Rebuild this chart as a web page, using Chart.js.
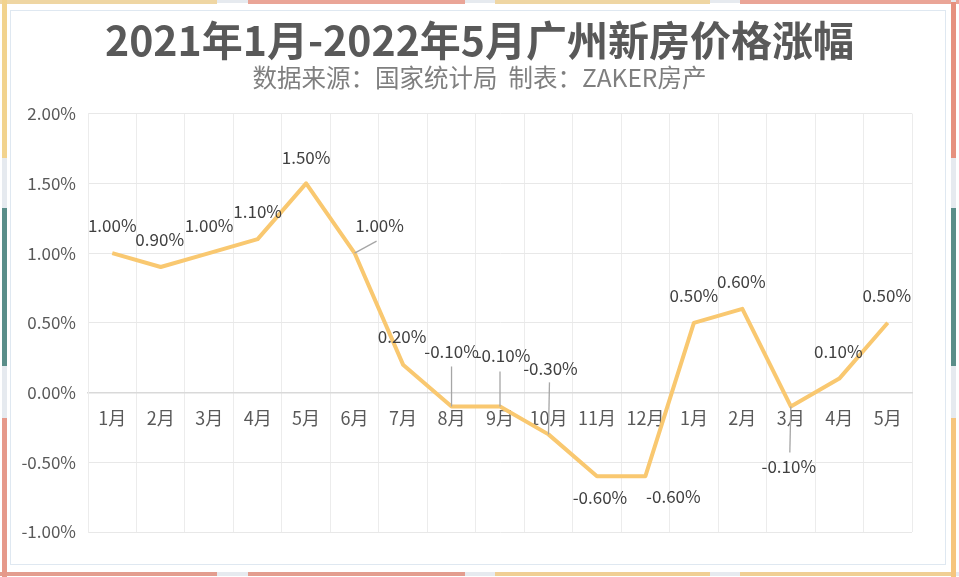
<!DOCTYPE html>
<html>
<head>
<meta charset="utf-8">
<script src="https://cdn.jsdelivr.net/npm/chart.js@4.4.1/dist/chart.umd.min.js"></script>
<style>
  body { margin: 0; background: #fff; }
  #wrap { position: relative; width: 959px; height: 577px; overflow: hidden; background: #fff; }
  #wrap canvas { position: absolute; left: 0; top: 0; }
  .frame { position: absolute; left: 10px; top: 10px; width: 936px; height: 555px; border: 1px solid #dfe8f1; box-sizing: border-box; }
  .bar { position: absolute; }
  .gap { position: absolute; background: #e6eaef; }
</style>
</head>
<body>
<div id="wrap">
  <canvas id="chart" width="959" height="577"></canvas>
  <div class="frame"></div>
  <!-- top edge -->
  <div class="gap" style="left:0;top:0;width:959px;height:3px"></div>
  <div class="bar" style="left:0;top:0;width:217px;height:4px;background:#efd6a3"></div>
  <div class="bar" style="left:248px;top:0;width:217px;height:4px;background:#eaa597"></div>
  <div class="bar" style="left:495px;top:0;width:215px;height:4px;background:#efd6a3"></div>
  <div class="bar" style="left:740px;top:0;width:219px;height:4px;background:#eaa597"></div>
  <!-- bottom edge -->
  <div class="gap" style="left:0;top:572px;width:959px;height:4px"></div>
  <div class="bar" style="left:0;top:572px;width:217px;height:4px;background:#e39d8f"></div>
  <div class="bar" style="left:248px;top:572px;width:217px;height:4px;background:#e39d8f"></div>
  <div class="bar" style="left:495px;top:572px;width:215px;height:4px;background:#f0cf94"></div>
  <div class="bar" style="left:740px;top:572px;width:215px;height:4px;background:#f0cf94"></div>
  <!-- left edge -->
  <div class="gap" style="left:2px;top:0;width:5px;height:577px"></div>
  <div class="bar" style="left:2px;top:0;width:5px;height:158px;background:#f2d38e"></div>
  <div class="bar" style="left:2px;top:208px;width:5px;height:158px;background:#5a8e89"></div>
  <div class="bar" style="left:2px;top:418px;width:5px;height:159px;background:#e6998a"></div>
  <!-- right edge -->
  <div class="gap" style="left:951px;top:0;width:5px;height:577px"></div>
  <div class="bar" style="left:951px;top:2px;width:5px;height:156px;background:#e6917f"></div>
  <div class="bar" style="left:951px;top:208px;width:5px;height:158px;background:#5a8e89"></div>
  <div class="bar" style="left:951px;top:418px;width:5px;height:159px;background:#f6c57d"></div>
</div>
<script>
// 2021年1月 - 2022年5月 广州新房价格环比涨幅 (%)
const months = ['1月','2月','3月','4月','5月','6月','7月','8月','9月','10月','11月','12月','1月','2月','3月','4月','5月'];
const priceChange = [1.00, 0.90, 1.00, 1.10, 1.50, 1.00, 0.20, -0.10, -0.10, -0.30, -0.60, -0.60, 0.50, 0.60, -0.10, 0.10, 0.50];
const yTicks = [-1.00, -0.50, 0.00, 0.50, 1.00, 1.50, 2.00];

const fontFamily = '"Noto Sans CJK SC", "Noto Sans", sans-serif';

// label placement: [dx, dy, leaderStartDy, leaderEndDx, leaderEndDy] relative to the point
const labelPlace = [
  [0, -28], [-1, -27], [0, -28], [0, -28], [0, -26],
  [25, -28, 0, 22, -12],
  [-1, -28],
  [0, -55, 0, 0, -40],
  [3, -51, 0, 0, -35],
  [2, -66, 0, 1, -52],
  [3, 21], [28, 20],
  [0, -27], [-1, -27],
  [-2, 60, 0, -1, 46],
  [-1, -27], [-1, -27]
];

const valueLabels = {
  id: 'valueLabels',
  afterDatasetsDraw(chart) {
    const ctx = chart.ctx;
    const meta = chart.getDatasetMeta(0);
    ctx.save();
    meta.data.forEach((pt, i) => {
      const p = labelPlace[i] || [0, -27];
      if (p.length > 2) {
        ctx.strokeStyle = '#a6a6a6';
        ctx.lineWidth = 1.3;
        ctx.beginPath();
        ctx.moveTo(pt.x, pt.y + p[2]);
        ctx.lineTo(pt.x + p[3], pt.y + p[4]);
        ctx.stroke();
      }
      ctx.font = '17px ' + fontFamily;
      ctx.fillStyle = '#404040';
      ctx.textAlign = 'center';
      ctx.textBaseline = 'middle';
      ctx.fillText(priceChange[i].toFixed(2) + '%', pt.x + p[0], pt.y + p[1]);
    });
    ctx.restore();
  }
};

new Chart(document.getElementById('chart'), {
  type: 'line',
  data: {
    labels: months,
    datasets: [{
      data: priceChange,
      borderColor: '#f9c870',
      borderWidth: 4,
      pointRadius: 0,
      tension: 0,
      borderJoinStyle: 'round'
    }]
  },
  options: {
    responsive: false,
    animation: false,
    layout: { padding: { top: 0, left: 0, right: 0, bottom: 45 } },
    plugins: {
      legend: { display: false },
      tooltip: { enabled: false },
      title: {
        display: true,
        text: '2021年1月-2022年5月广州新房价格涨幅',
        color: '#595959',
        font: { family: fontFamily, size: 41, weight: 'bold', lineHeight: 1.2 },
        padding: { top: 16, bottom: 0 }
      },
      subtitle: {
        display: true,
        text: '数据来源：国家统计局  制表：ZAKER房产',
        color: '#7f7f7f',
        font: { family: fontFamily, size: 24.5, lineHeight: 1.2 },
        padding: { top: -2, bottom: 21 }
      }
    },
    scales: {
      x: {
        position: { y: 0 },
        offset: true,
        grid: { offset: true, color: '#ececec', lineWidth: 1, drawTicks: false },
        border: { color: '#d9d9d9', width: 1.5 },
        ticks: {
          color: '#595959',
          padding: 15,
          maxRotation: 0,
          autoSkip: false,
          font: { family: fontFamily, size: 18 }
        }
      },
      y: {
        min: -1,
        max: 2,
        afterFit(scale) { scale.width = 88; },
        afterBuildTicks(scale) { scale.ticks = yTicks.map(v => ({ value: v })); },
        grid: { color: '#e8e8e8', lineWidth: 1, drawTicks: false },
        border: { color: '#ececec' },
        ticks: {
          color: '#595959',
          padding: 12,
          font: { family: fontFamily, size: 17 },
          callback: v => v.toFixed(2) + '%'
        }
      },
      // empty right-hand axis, only keeps the right margin so the title stays centred on the page
      yRight: {
        position: 'right',
        min: -1,
        max: 2,
        afterFit(scale) { scale.width = 47; },
        grid: { display: false },
        border: { display: false },
        ticks: { display: false }
      }
    }
  },
  plugins: [valueLabels]
});
</script>
</body>
</html>
